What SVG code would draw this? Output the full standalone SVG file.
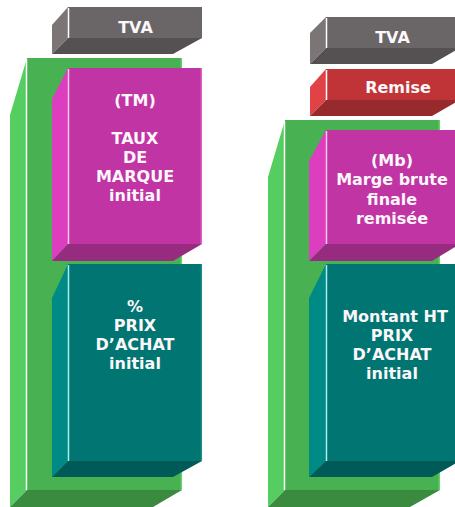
<svg xmlns="http://www.w3.org/2000/svg" width="455" height="507" viewBox="0 0 455 507">
<style>
text{font-family:"DejaVu Sans","Verdana",sans-serif;font-weight:bold;font-size:16px;fill:#fbf7fb;text-anchor:middle}
.gF{fill:#48b252}.gS{fill:#55cd60}.gB{fill:#3a8a40}
.tF{fill:#6a6566}.tS{fill:#7b7576}.tB{fill:#555051}
.mF{fill:#c134a3}.mS{fill:#dd3ec0}.mB{fill:#962b80}
.cF{fill:#007571}.cS{fill:#008a86}.cB{fill:#005b58}
.rF{fill:#c03438}.rS{fill:#e04246}.rB{fill:#962a2d}
.hl{fill:none;stroke-width:1.5}
</style>

<g id="green-left">
<polygon class="gS" points="10,115 27,58 27,490 10,507"/>
<rect class="gF" x="27" y="58" width="155" height="432"/>
<polygon class="gB" points="10,507 27,490 182,490 153,507"/>
<line class="hl" x1="26.5" y1="59" x2="26.5" y2="490" stroke="#ffffff"/>
<line class="hl" x1="181.3" y1="58" x2="181.3" y2="490" stroke="#62d06c"/>
</g>

<g id="green-right">
<polygon class="gS" points="268,177 285,120 285,490 268,507"/>
<rect class="gF" x="285" y="120" width="155" height="370"/>
<polygon class="gB" points="268,507 285,490 440,490 410,507"/>
<line class="hl" x1="284.5" y1="121" x2="284.5" y2="490" stroke="#ffffff"/>
<line class="hl" x1="439.3" y1="120" x2="439.3" y2="490" stroke="#62d06c"/>
</g>

<g id="tva-left">
<polygon class="tS" points="52,25 68,7 68,38 52,54"/>
<rect class="tF" x="68" y="7" width="134" height="31"/>
<polygon class="tB" points="52,54 68,38 202,38 173,54"/>
<line class="hl" x1="68.5" y1="8" x2="68.5" y2="38" stroke="#ffffff"/>
<text x="135.5" y="33">TVA</text>
</g>

<g id="tm-left">
<polygon class="mS" points="52,99 68,68 68,244 52,261"/>
<rect class="mF" x="68" y="68" width="134" height="176"/>
<polygon class="mB" points="52,261 68,244 202,244 173,261"/>
<line class="hl" x1="68.5" y1="69" x2="68.5" y2="244" stroke="#f6c9ef"/>
<line class="hl" x1="201.3" y1="68" x2="201.3" y2="244" stroke="#e060c8"/>
<text x="135" y="106">(TM)</text>
<text x="135" y="144">TAUX</text>
<text x="135" y="163">DE</text>
<text x="135" y="182">MARQUE</text>
<text x="135" y="201">initial</text>
</g>

<g id="prix-left">
<polygon class="cS" points="52,298 68,264 68,461 52,477"/>
<rect class="cF" x="68" y="264" width="134" height="197"/>
<polygon class="cB" points="52,477 68,461 202,461 173,477"/>
<line class="hl" x1="68.5" y1="265" x2="68.5" y2="461" stroke="#a8eeee"/>
<line class="hl" x1="201.3" y1="264" x2="201.3" y2="461" stroke="#1a8c88"/>
<text x="135" y="312">%</text>
<text x="135" y="331">PRIX</text>
<text x="135" y="350">D’ACHAT</text>
<text x="135" y="369">initial</text>
</g>

<g id="tva-right">
<polygon class="tS" points="310,33 326,17 326,48 310,64"/>
<rect class="tF" x="326" y="17" width="134" height="31"/>
<polygon class="tB" points="310,64 326,48 460,48 432,64"/>
<line class="hl" x1="326.5" y1="18" x2="326.5" y2="48" stroke="#ffffff"/>
<text x="392.5" y="43">TVA</text>
</g>

<g id="remise-right">
<polygon class="rS" points="310,87 326,69 326,100 310,116"/>
<rect class="rF" x="326" y="69" width="134" height="31"/>
<polygon class="rB" points="310,116 326,100 460,100 432,116"/>
<line class="hl" x1="326.5" y1="70" x2="326.5" y2="100" stroke="#ffffff"/>
<text x="398" y="93">Remise</text>
</g>

<g id="mb-right">
<polygon class="mS" points="309,161 326,130 326,244 309,261"/>
<rect class="mF" x="326" y="130" width="134" height="114"/>
<polygon class="mB" points="309,261 326,244 460,244 432,261"/>
<line class="hl" x1="326.5" y1="131" x2="326.5" y2="244" stroke="#f6c9ef"/>
<text x="392" y="166">(Mb)</text>
<text x="392" y="185">Marge brute</text>
<text x="392" y="205">finale</text>
<text x="392" y="224">remisée</text>
</g>

<g id="montant-right">
<polygon class="cS" points="309,298 326,264 326,461 309,477"/>
<rect class="cF" x="326" y="264" width="134" height="197"/>
<polygon class="cB" points="309,477 326,461 460,461 432,477"/>
<line class="hl" x1="326.5" y1="265" x2="326.5" y2="461" stroke="#a8eeee"/>
<text x="395" y="322">Montant HT</text>
<text x="392" y="341">PRIX</text>
<text x="392" y="360">D’ACHAT</text>
<text x="392" y="379">initial</text>
</g>
</svg>
